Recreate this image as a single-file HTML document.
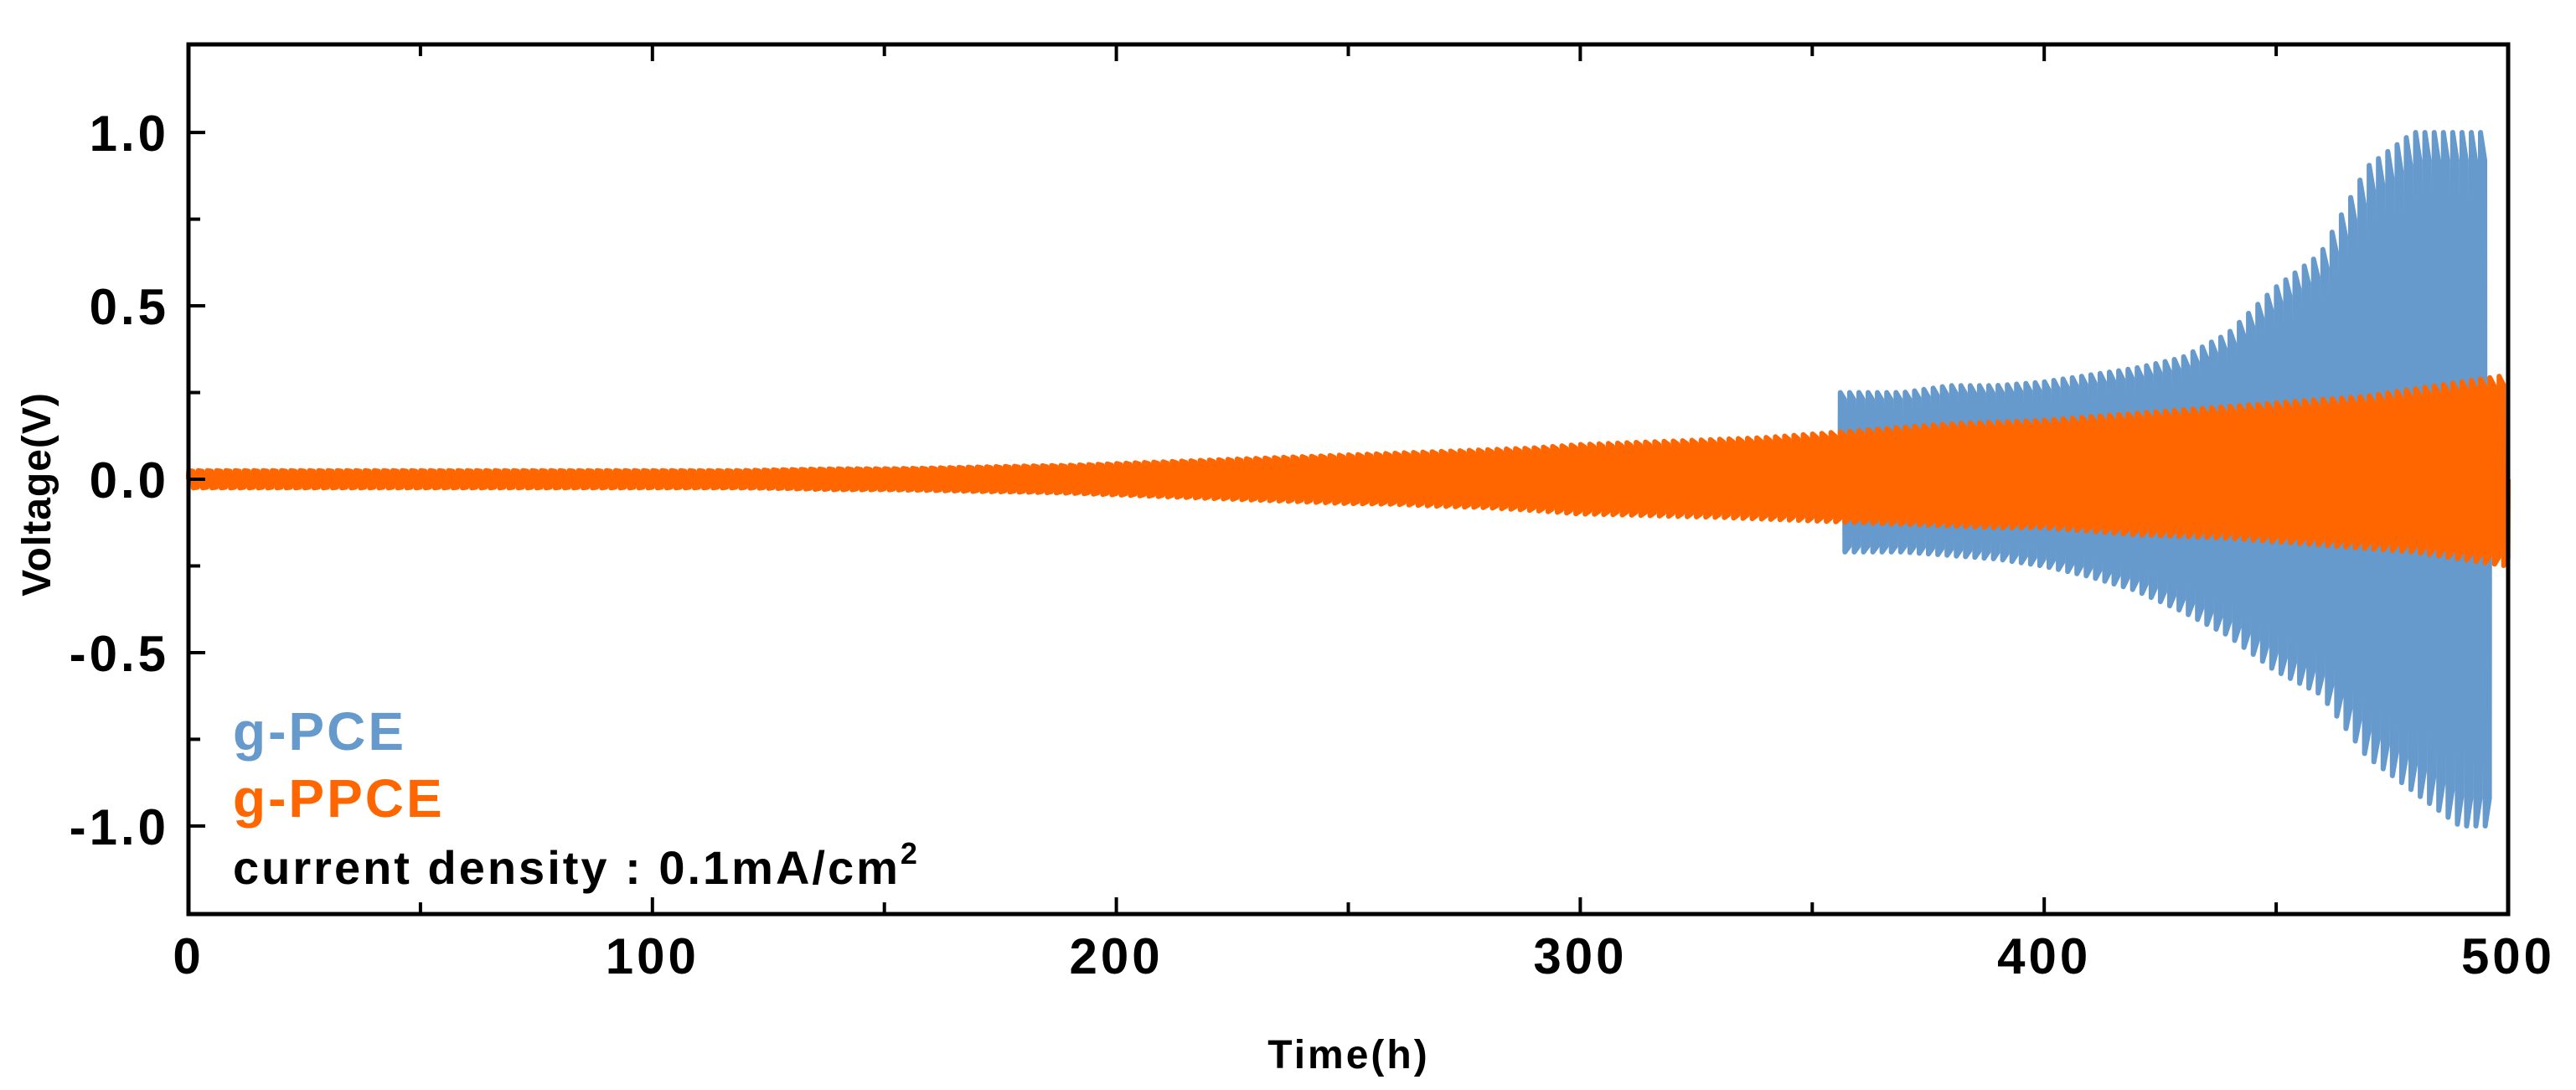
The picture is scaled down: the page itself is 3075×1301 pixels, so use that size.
<!DOCTYPE html>
<html><head><meta charset="utf-8"><style>
html,body{margin:0;padding:0;background:#fff;}
svg{display:block;font-family:"Liberation Sans",Arial,sans-serif;font-weight:bold;}
</style></head><body>
<svg id="chart" width="3075" height="1301" viewBox="0 0 3075 1301" xmlns="http://www.w3.org/2000/svg">
<g id="series"></g>
<g id="axes"></g>
<text x="0" y="0" transform="translate(60,590) rotate(-90)" text-anchor="middle" font-size="48" letter-spacing="1">Voltage(V)</text>
<text x="1610" y="1275" text-anchor="middle" font-size="48" letter-spacing="3">Time(h)</text>
<text x="278" y="895" font-size="64" letter-spacing="3" fill="#6699cc">g-PCE</text>
<text x="278" y="975" font-size="64" letter-spacing="3" fill="#ff6600">g-PPCE</text>
<text x="278" y="1055" font-size="56" letter-spacing="3">current density : 0.1mA/cm<tspan font-size="36" dy="-24">2</tspan></text>
</svg>
<script>
const envTimes = [0,10,20,30,40,50,60,70,80,90,100,110,120,130,140,150,160,170,180,190,200,210,220,230,240,250,260,270,280,290,300,310,320,330,340,350,360,370,380,390,400,410,420,430,440,450,460,470,480,490,500];
const ppceUpper = [.025,.025,.025,.025,.025,.025,.025,.025,.025,.025,.025,.025,.025,.028,.03,.03,.032,.035,.038,.04,.045,.05,.055,.06,.065,.07,.075,.08,.085,.09,.1,.105,.11,.115,.12,.13,.14,.15,.16,.165,.17,.18,.19,.2,.21,.22,.23,.24,.26,.28,.3];
const ppceLower = [-.025,-.025,-.025,-.025,-.025,-.025,-.025,-.025,-.025,-.025,-.025,-.025,-.025,-.027,-.03,-.03,-.032,-.035,-.037,-.04,-.045,-.05,-.055,-.06,-.065,-.07,-.072,-.078,-.082,-.09,-.1,-.103,-.107,-.11,-.115,-.12,-.125,-.13,-.135,-.14,-.14,-.15,-.16,-.165,-.17,-.18,-.19,-.2,-.21,-.23,-.25];
const pceUpper = [.02,.02,.02,.02,.02,.02,.02,.02,.02,.02,.02,.022,.025,.027,.03,.03,.032,.035,.037,.04,.043,.047,.05,.055,.06,.065,.07,.075,.08,.085,.09,.095,.1,.105,.11,.12,.25,.25,.27,.27,.28,.3,.32,.35,.42,.55,.65,.9,1.0,1.0,1.0];
const pceLower = [-.02,-.02,-.02,-.02,-.02,-.02,-.02,-.02,-.02,-.02,-.02,-.022,-.025,-.027,-.03,-.03,-.032,-.035,-.037,-.04,-.043,-.047,-.05,-.055,-.06,-.065,-.07,-.075,-.08,-.085,-.09,-.095,-.1,-.105,-.11,-.12,-.21,-.21,-.22,-.23,-.25,-.28,-.32,-.38,-.45,-.55,-.62,-.8,-.9,-1.0,-1.0];
const xTicks = [0,100,200,300,400,500];
const xTickLabels = ["0","100","200","300","400","500"];
const yTicks = [-1.0,-0.5,0.0,0.5,1.0];
const yTickLabels = ["-1.0","-0.5","0.0","0.5","1.0"];
const cycleHours = 2;
const pceEnd = 496;
const pceJump = 356;
const ppceEnd = 500;

const X0=225,X1=2994,Y0=53,Y1=1091,XMIN=0,XMAX=500,YMIN=-1.254,YMAX=1.254;
const sx=v=>X0+(v-XMIN)/(XMAX-XMIN)*(X1-X0);
const sy=v=>Y1-(v-YMIN)/(YMAX-YMIN)*(Y1-Y0);
const NS="http://www.w3.org/2000/svg";
function env(arr,t,jump){
  if(jump!==undefined && t>=jump && t<360){ return arr[36]; }
  if(jump!==undefined && t>=350 && t<jump){ return arr[35]; }
  for(let i=0;i<envTimes.length-1;i++){
    if(t>=envTimes[i]&&t<=envTimes[i+1]){
      const f=(t-envTimes[i])/(envTimes[i+1]-envTimes[i]);
      return arr[i]+(arr[i+1]-arr[i])*f;
    }
  }
  return arr[arr.length-1];
}
function wave(up,lo,end,jump){
  let pts=[];
  for(let t=0;t<end;t+=cycleHours){
    const u=env(up,t+0.5,jump), l=env(lo,t+1.5,jump);
    const h=cycleHours/2;
    pts.push([t,0],[t+0.05,u],[t+h-0.05,u*0.92],[t+h,0],[t+h+0.05,l],[Math.min(t+cycleHours-0.05,end),l*0.92],[Math.min(t+cycleHours,end),0]);
  }
  return pts.map(p=>sx(p[0]).toFixed(1)+","+sy(p[1]).toFixed(1)).join(" ");
}
const series=document.getElementById('series');
const pl1=document.createElementNS(NS,'polyline');


pl1.setAttribute('points',wave(pceUpper,pceLower,pceEnd,pceJump));
pl1.setAttribute('fill','none');pl1.setAttribute('stroke','#6699cc');pl1.setAttribute('stroke-width','6');pl1.setAttribute('stroke-linejoin','round');
series.appendChild(pl1);
const pl2=document.createElementNS(NS,'polyline');


pl2.setAttribute('points',wave(ppceUpper,ppceLower,ppceEnd));
pl2.setAttribute('fill','none');pl2.setAttribute('stroke','#ff6600');pl2.setAttribute('stroke-width','6');pl2.setAttribute('stroke-linejoin','round');
series.appendChild(pl2);

const axes=document.getElementById('axes');
const frame=document.createElementNS(NS,'rect');


frame.setAttribute('x',X0);frame.setAttribute('y',Y0);frame.setAttribute('width',X1-X0);frame.setAttribute('height',Y1-Y0);
frame.setAttribute('fill','none');frame.setAttribute('stroke','#000');frame.setAttribute('stroke-width','5');
axes.appendChild(frame);
function line(x1,y1,x2,y2,name){
  const l=document.createElementNS(NS,'line');
  
  
  l.setAttribute('x1',x1);l.setAttribute('y1',y1);l.setAttribute('x2',x2);l.setAttribute('y2',y2);
  l.setAttribute('stroke','#000');l.setAttribute('stroke-width','4');
  axes.appendChild(l);
}
for(let v=0;v<=500;v+=50){
  const len=v%100===0?20:14;
  line(sx(v),Y1,sx(v),Y1-len,'x-tick');
  line(sx(v),Y0,sx(v),Y0+len,'x-tick-top');
}
for(let v=-1.0;v<=1.001;v+=0.25){
  const len=Math.abs(Math.round(v*4))%2===0?20:14;
  line(X0,sy(v),X0+len,sy(v),'y-tick');
}
xTicks.forEach((v,i)=>{
  const t=document.createElementNS(NS,'text');
  
  
  t.setAttribute('x',sx(v));t.setAttribute('y',1162);t.setAttribute('text-anchor','middle');t.setAttribute('font-size','60');t.setAttribute('letter-spacing','4');
  t.textContent=xTickLabels[i];axes.appendChild(t);
});
yTicks.forEach((v,i)=>{
  const t=document.createElementNS(NS,'text');
  
  
  t.setAttribute('x',202);t.setAttribute('y',sy(v)+22);t.setAttribute('text-anchor','end');t.setAttribute('font-size','60');t.setAttribute('letter-spacing','4');
  t.textContent=yTickLabels[i];axes.appendChild(t);
});
</script>
</body></html>
